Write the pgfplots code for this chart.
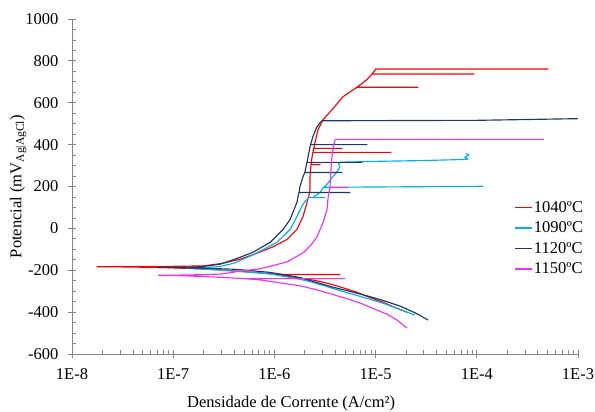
\documentclass[border=0pt]{standalone}
\usepackage{fontspec}
\setmainfont{Liberation Serif}
\usepackage{pgfplots}
\pgfplotsset{compat=1.18}
\definecolor{c1040}{RGB}{255,0,0}
\definecolor{c1090}{RGB}{0,176,240}
\definecolor{c1120}{RGB}{31,56,100}
\definecolor{c1150}{RGB}{240,50,240}
\definecolor{axgray}{RGB}{134,134,134}
\begin{document}
\begin{tikzpicture}
\useasboundingbox (-72pt,-58pt) rectangle (523pt,354pt);
\begin{axis}[
  at={(0pt,0pt)}, anchor=south west,
  scale only axis, width=506pt, height=335pt,
  xmode=log, xmin=1e-8, xmax=1e-3, ymin=-600, ymax=1000,
  axis x line*=bottom, axis y line*=left,
  axis line style={axgray, line width=0.8pt, -},
  xtick={1e-8,1e-7,1e-6,1e-5,1e-4,1e-3},
  xticklabels={1E-8,1E-7,1E-6,1E-5,1E-4,1E-3},
  minor xtick={2e-8,3e-8,4e-8,5e-8,6e-8,7e-8,8e-8,9e-8,
    2e-7,3e-7,4e-7,5e-7,6e-7,7e-7,8e-7,9e-7,
    2e-6,3e-6,4e-6,5e-6,6e-6,7e-6,8e-6,9e-6,
    2e-5,3e-5,4e-5,5e-5,6e-5,7e-5,8e-5,9e-5,
    2e-4,3e-4,4e-4,5e-4,6e-4,7e-4,8e-4,9e-4},
  ytick={-600,-400,-200,0,200,400,600,800,1000},
  yticklabels={-600,-400,-200,0,200,400,600,800,1000},
  minor y tick num=3,
  tick align=center,
  major tick length=8pt,
  minor tick length=4pt,
  tick style={axgray, line width=0.8pt},
  every minor x tick/.append style={yshift=2pt},
  every minor y tick/.append style={xshift=2pt},
  tick label style={font=\fontsize{16.5}{19}\selectfont, black},
  xticklabel style={yshift=-7pt},
  yticklabel style={xshift=-6pt},
  xlabel={Densidade de Corrente (A/cm²)},
  xlabel style={at={(axis description cs:0.433,0)}, anchor=north, yshift=-39pt, font=\fontsize{16.5}{19}\selectfont},
  ylabel={Potencial (mV\textsubscript{Ag|AgCl})},
  ylabel style={at={(axis description cs:-0.083,0.5)}, anchor=south, font=\fontsize{16.5}{19}\selectfont},
  legend style={draw=none, fill=none, at={(axis description cs:0.868,0.346)}, anchor=west,
    font=\fontsize{16.5}{19}\selectfont, row sep=6pt, nodes={inner sep=1pt}},
  legend cell align=left,
  legend image code/.code={\draw[#1] (0pt,0pt) -- (17pt,0pt);},
  every axis plot/.append style={line width=1.15pt, no markers, line join=round},
]
\addlegendimage{color=red, line width=1.6pt}
\addlegendentry{1040ºC}
\addlegendimage{color=c1090, line width=1.6pt}
\addlegendentry{1090ºC}
\addlegendimage{color=c1120, line width=1.6pt}
\addlegendentry{1120ºC}
\addlegendimage{color=c1150, line width=1.6pt}
\addlegendentry{1150ºC}
% 1040 C
\addplot[color=c1040, forget plot] coordinates {
(2.04e-5,-400) (1.5e-5,-375) (1.18e-5,-352) (8.5e-6,-328) (6.55e-6,-305) (4.5e-6,-280)
(3.5e-6,-265) (2.5e-6,-248) (1.79e-6,-237) (1.2e-6,-224)
(1.1e-6,-220) (4.45e-6,-220) (1.1e-6,-220)
(7e-7,-212) (4e-7,-203) (2e-7,-194) (8e-8,-187) (3e-8,-184) (1.77e-8,-183)
(3e-8,-183) (6e-8,-182) (1.2e-7,-181) (2e-7,-179) (3e-7,-168) (4.5e-7,-148)
(6.15e-7,-126) (9.7e-7,-88) (1.33e-6,-53) (1.67e-6,-5) (1.92e-6,57) (2.1e-6,124)
(2.2e-6,160) (2.25e-6,186) (2.25e-6,248)
(2.3e-6,305) (2.82e-6,305) (2.3e-6,305)
(2.36e-6,343)
(2.4e-6,363) (1.42e-5,363) (2.4e-6,363)
(2.45e-6,382) (4.66e-6,382) (2.45e-6,382)
(2.52e-6,410) (2.7e-6,471) (3.02e-6,519) (3.71e-6,567) (4.77e-6,629)
(6.55e-6,674) (2.62e-5,674) (6.55e-6,674)
(8.2e-6,710) (9.2e-6,737) (9.38e-5,737) (9.2e-6,737)
(9.86e-6,755) (1.0e-5,761) (5.06e-4,761)
};
% 1090 C
\addplot[color=c1090, forget plot] coordinates {
(2.45e-5,-414) (1.8e-5,-390) (1.2e-5,-358) (8e-6,-333) (6e-6,-315) (4.5e-6,-298)
(3.3e-6,-278) (2.4e-6,-258) (1.79e-6,-243) (1.2e-6,-228) (9e-7,-218) (6e-7,-210)
(3.9e-7,-204) (2.5e-7,-197) (1.37e-7,-190)
(2e-7,-188) (2.9e-7,-182) (4e-7,-166) (5.74e-7,-133) (8e-7,-98) (1.06e-6,-67)
(1.43e-6,-5) (1.67e-6,57) (1.87e-6,105) (2.0e-6,129)
(2.2e-6,147) (3.16e-6,147) (2.4e-6,147)
(2.6e-6,160) (2.82e-6,171) (3.0e-6,190)
(3.05e-6,196) (1.15e-4,201) (3.05e-6,196)
(3.31e-6,210) (3.79e-6,248) (4.16e-6,271) (4.45e-6,295) (4.3e-6,310) (4.5e-6,316)
(1e-5,320) (3e-5,324) (7.31e-5,329) (8.2e-5,331) (7.6e-5,340) (8.4e-5,350) (7.8e-5,357)
};
% 1120 C
\addplot[color=c1120, forget plot] coordinates {
(3.3e-5,-438) (2.5e-5,-405) (1.74e-5,-371) (1.2e-5,-345) (8.2e-6,-322) (5.5e-6,-300)
(3.79e-6,-281) (2.6e-6,-258) (1.79e-6,-235) (1.2e-6,-220) (9e-7,-210) (5e-7,-199)
(3.9e-7,-195) (2.2e-7,-191) (1.2e-7,-188) (6.9e-8,-187)
(1.2e-7,-186) (1.9e-7,-183) (2.9e-7,-171) (4.2e-7,-145) (6.15e-7,-114) (9.06e-7,-67)
(1.22e-6,-5) (1.43e-6,43) (1.67e-6,124) (1.71e-6,150)
(1.75e-6,171) (5.58e-6,171) (1.75e-6,171)
(1.79e-6,200) (1.92e-6,248)
(2.0e-6,267) (4.66e-6,267) (2.0e-6,267)
(2.1e-6,315) (7.34e-6,315) (2.1e-6,315)
(2.25e-6,390)
(2.28e-6,400) (8.22e-6,400) (2.28e-6,400)
(2.4e-6,438) (2.6e-6,480) (2.82e-6,505) (2.95e-6,514) (1e-4,516) (1e-3,524)
};
% 1150 C
\addplot[color=c1150, forget plot] coordinates {
(2.04e-5,-476) (1.8e-5,-455) (1.63e-5,-438) (1.3e-5,-410) (1.03e-5,-390) (7.5e-6,-362)
(5.58e-6,-340) (3.79e-6,-316) (2.6e-6,-293) (1.79e-6,-274) (1.2e-6,-262) (7.2e-7,-246)
(5e-7,-240) (4.99e-6,-240) (5e-7,-240)
(3.9e-7,-237) (2e-7,-230) (1.2e-7,-226) (7.1e-8,-224)
(1.2e-7,-223) (2e-7,-221) (3e-7,-218) (4.5e-7,-205) (7.2e-7,-193) (1.0e-6,-176)
(1.33e-6,-160) (1.92e-6,-117) (2.3e-6,-80) (2.64e-6,-40) (3.02e-6,27) (3.31e-6,90)
(3.4e-6,151) (3.5e-6,180)
(3.54e-6,195) (5.33e-6,195) (3.54e-6,195)
(3.6e-6,260) (3.7e-6,340) (3.85e-6,400) (3.97e-6,420) (4.0e-6,425) (4.61e-4,425)
};
\end{axis}
\end{tikzpicture}
\end{document}
